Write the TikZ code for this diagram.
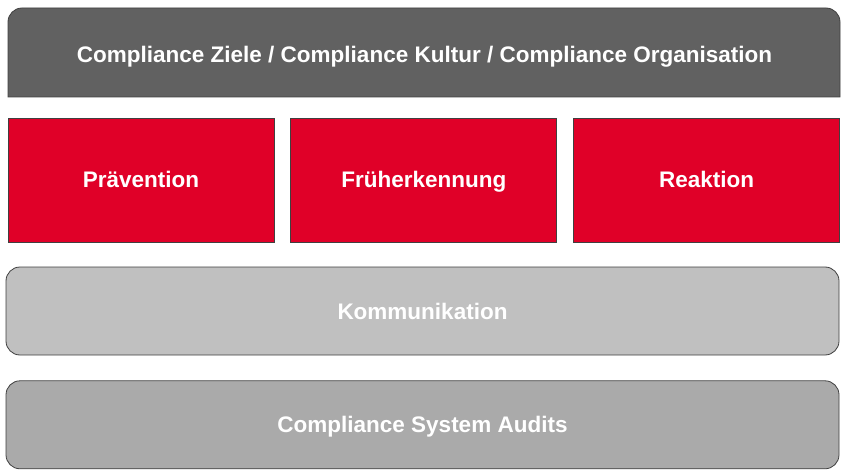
\documentclass[tikz,border=0pt]{standalone}
\usepackage{fontspec}
\setmainfont{Liberation Sans}
\usetikzlibrary{positioning}

\definecolor{zielgrau}{HTML}{616161}
\definecolor{saeulenrot}{HTML}{E00028}
\definecolor{kommgrau}{HTML}{C0C0C0}
\definecolor{auditgrau}{HTML}{AAAAAA}
\definecolor{randgrau}{HTML}{404040}

\begin{document}
\begin{tikzpicture}[x=1pt, y=-1pt,
% node styles
boxtext/.style={text=white, font=\fontsize{22.5}{27}\selectfont\bfseries,
  text height=16pt, text depth=0pt},
pillar/.style={rectangle, draw=randgrau, fill=saeulenrot, line width=0.8pt,
  minimum width=266pt, minimum height=124pt, boxtext},
layer/.style={rectangle, rounded corners=14pt, draw=randgrau, line width=0.8pt,
  minimum width=833pt, minimum height=88pt, boxtext}
]
\useasboundingbox (0,0) rectangle (849,476);

% top layer, rounded only at the top
\filldraw[fill=zielgrau, draw=randgrau, line width=0.8pt]
  (8,97) -- (8,22) arc[start angle=180, end angle=270, radius=14]
  -- (826,8) arc[start angle=270, end angle=360, radius=14]
  -- (840,97) -- cycle;
\node[boxtext] (ziele) at (424.5,54.5) {Compliance Ziele / Compliance Kultur / Compliance Organisation};

% pillars
\node[pillar] (praev) at (141,180) {Prävention};
\node[pillar] (frueh) [right=16pt of praev] {Früherkennung};
\node[pillar] (reakt) [right=16pt of frueh] {Reaktion};

% bottom layers
\node[layer, fill=kommgrau] (komm) at (422.5,311) {Kommunikation};
\node[layer, fill=auditgrau] (audit) [below=25pt of komm] {Compliance System Audits};

\end{tikzpicture}
\end{document}
